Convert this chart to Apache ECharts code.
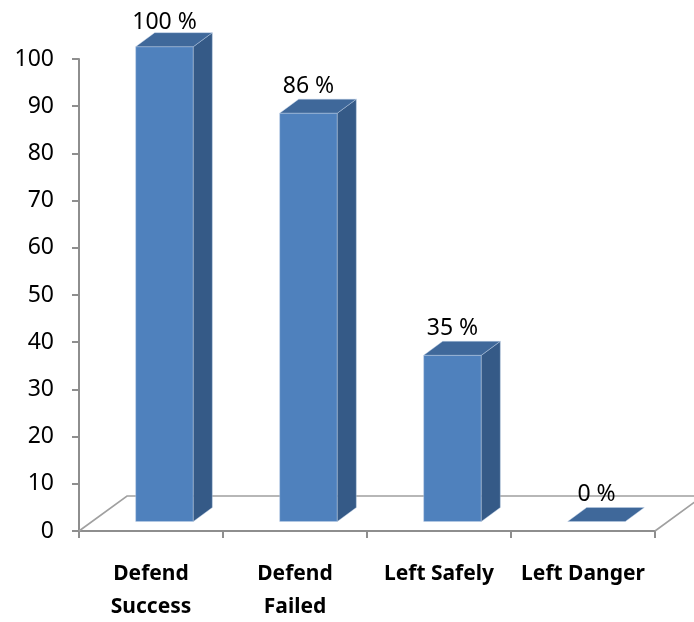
<!DOCTYPE html>
<html>
<head>
<meta charset="utf-8">
<script src="https://cdn.jsdelivr.net/npm/echarts@6/dist/echarts.min.js"></script>
<style>
  html, body { margin: 0; padding: 0; background: #ffffff; }
  #chart { width: 694px; height: 622px; }
</style>
</head>
<body>
<div id="chart"></div>
<script>
// Outcome categories and their percentages
const categories = ['Defend\nSuccess', 'Defend\nFailed', 'Left Safely', 'Left Danger'];
const values = [100, 86, 35, 0];
const valueLabels = ['100 %', '86 %', '35 %', '0 %'];

// Value axis range
const yMin = 0;
const yMax = 100;
const yStep = 10;

// 3D projection settings (pixel offsets for depth)
const FLOOR_DEPTH = [48, -35];
const BAR_DEPTH = [19, -14];
const BAR_FRONT = [13.5, -9.5];
const BAR_WIDTH_RATIO = 0.4;
const LABEL_GAP = 13;

const AXIS_GRAY = '#8e8e8e';
const FACE_FRONT = '#4f81bd';
const FACE_SIDE = '#355a87';
const FACE_TOP = '#3f689a';
const TEXT_FONT = 'Noto Sans';

const chart = echarts.init(document.getElementById('chart'), null, { renderer: 'canvas' });

function renderFloor(params, api) {
  const cs = params.coordSys;
  const xL = cs.x, xR = cs.x + cs.width, y = cs.y + cs.height;
  const [dx, dy] = FLOOR_DEPTH;
  return {
    type: 'polyline',
    shape: { points: [[xL, y], [xL + dx, y + dy], [xR + dx, y + dy], [xR, y]] },
    style: { stroke: '#a0a0a0', lineWidth: 1.6, fill: null }
  };
}

function renderBar(params, api) {
  const idx = api.value(0);
  const v = api.value(1);
  const base = api.coord([idx, 0]);
  const top = api.coord([idx, v]);
  const band = api.size([1, 0])[0];
  const w = band * BAR_WIDTH_RATIO;
  const cx = base[0] + BAR_FRONT[0];
  const x0 = cx - w / 2, x1 = cx + w / 2;
  const yb = base[1] + BAR_FRONT[1];
  const yt = yb - (base[1] - top[1]) * 1.006;
  const [dx, dy] = BAR_DEPTH;
  const edge = 'rgba(190,208,232,0.55)';
  const children = [];
  if (yb - yt > 0.5) {
    children.push({
      type: 'rect',
      shape: { x: x0, y: yt, width: w, height: yb - yt },
      style: { fill: FACE_FRONT, stroke: edge, lineWidth: 0.8 }
    });
    children.push({
      type: 'polygon',
      shape: { points: [[x1, yb], [x1 + dx, yb + dy], [x1 + dx, yt + dy], [x1, yt]] },
      style: { fill: FACE_SIDE, stroke: edge, lineWidth: 0.8 }
    });
  }
  children.push({
    type: 'polygon',
    shape: { points: [[x0, yt], [x1, yt], [x1 + dx, yt + dy], [x0 + dx, yt + dy]] },
    style: { fill: FACE_TOP, stroke: edge, lineWidth: 0.8 }
  });
  children.push({
    type: 'text',
    style: {
      text: valueLabels[params.dataIndex],
      x: cx, y: Math.max(yt + dy - LABEL_GAP, 22),
      align: 'center', verticalAlign: 'middle',
      fontSize: 23, fontFamily: TEXT_FONT, fill: '#000000'
    }
  });
  return { type: 'group', children };
}

chart.setOption({
  animation: false,
  backgroundColor: '#ffffff',
  grid: { left: 79, right: 39, top: 59, bottom: 91, containLabel: false, outerBoundsMode: 'none' },
  xAxis: {
    type: 'category',
    data: categories,
    boundaryGap: true,
    axisLine: { show: true, lineStyle: { color: AXIS_GRAY, width: 2 } },
    axisTick: { show: true, length: 7, interval: 0, alignWithLabel: false, lineStyle: { color: AXIS_GRAY, width: 2 } },
    axisLabel: {
      interval: 0, margin: 27, color: '#000000',
      fontFamily: TEXT_FONT, fontWeight: 'bold', fontSize: 21, lineHeight: 33
    },
    splitLine: { show: false }
  },
  yAxis: {
    type: 'value',
    min: yMin, max: yMax, interval: yStep,
    axisLine: { show: true, lineStyle: { color: AXIS_GRAY, width: 2 } },
    axisTick: { show: true, length: 7, lineStyle: { color: AXIS_GRAY, width: 2 } },
    axisLabel: { margin: 25, color: '#000000', fontFamily: TEXT_FONT, fontSize: 23 },
    splitLine: { show: false }
  },
  series: [
    {
      type: 'custom',
      z: 1,
      clip: false,
      renderItem: renderFloor,
      data: [[0, 0]],
      silent: true
    },
    {
      type: 'custom',
      z: 2,
      clip: false,
      renderItem: renderBar,
      data: values.map((v, i) => [i, v]),
      encode: { x: 0, y: 1 }
    }
  ]
});
</script>
</body>
</html>
